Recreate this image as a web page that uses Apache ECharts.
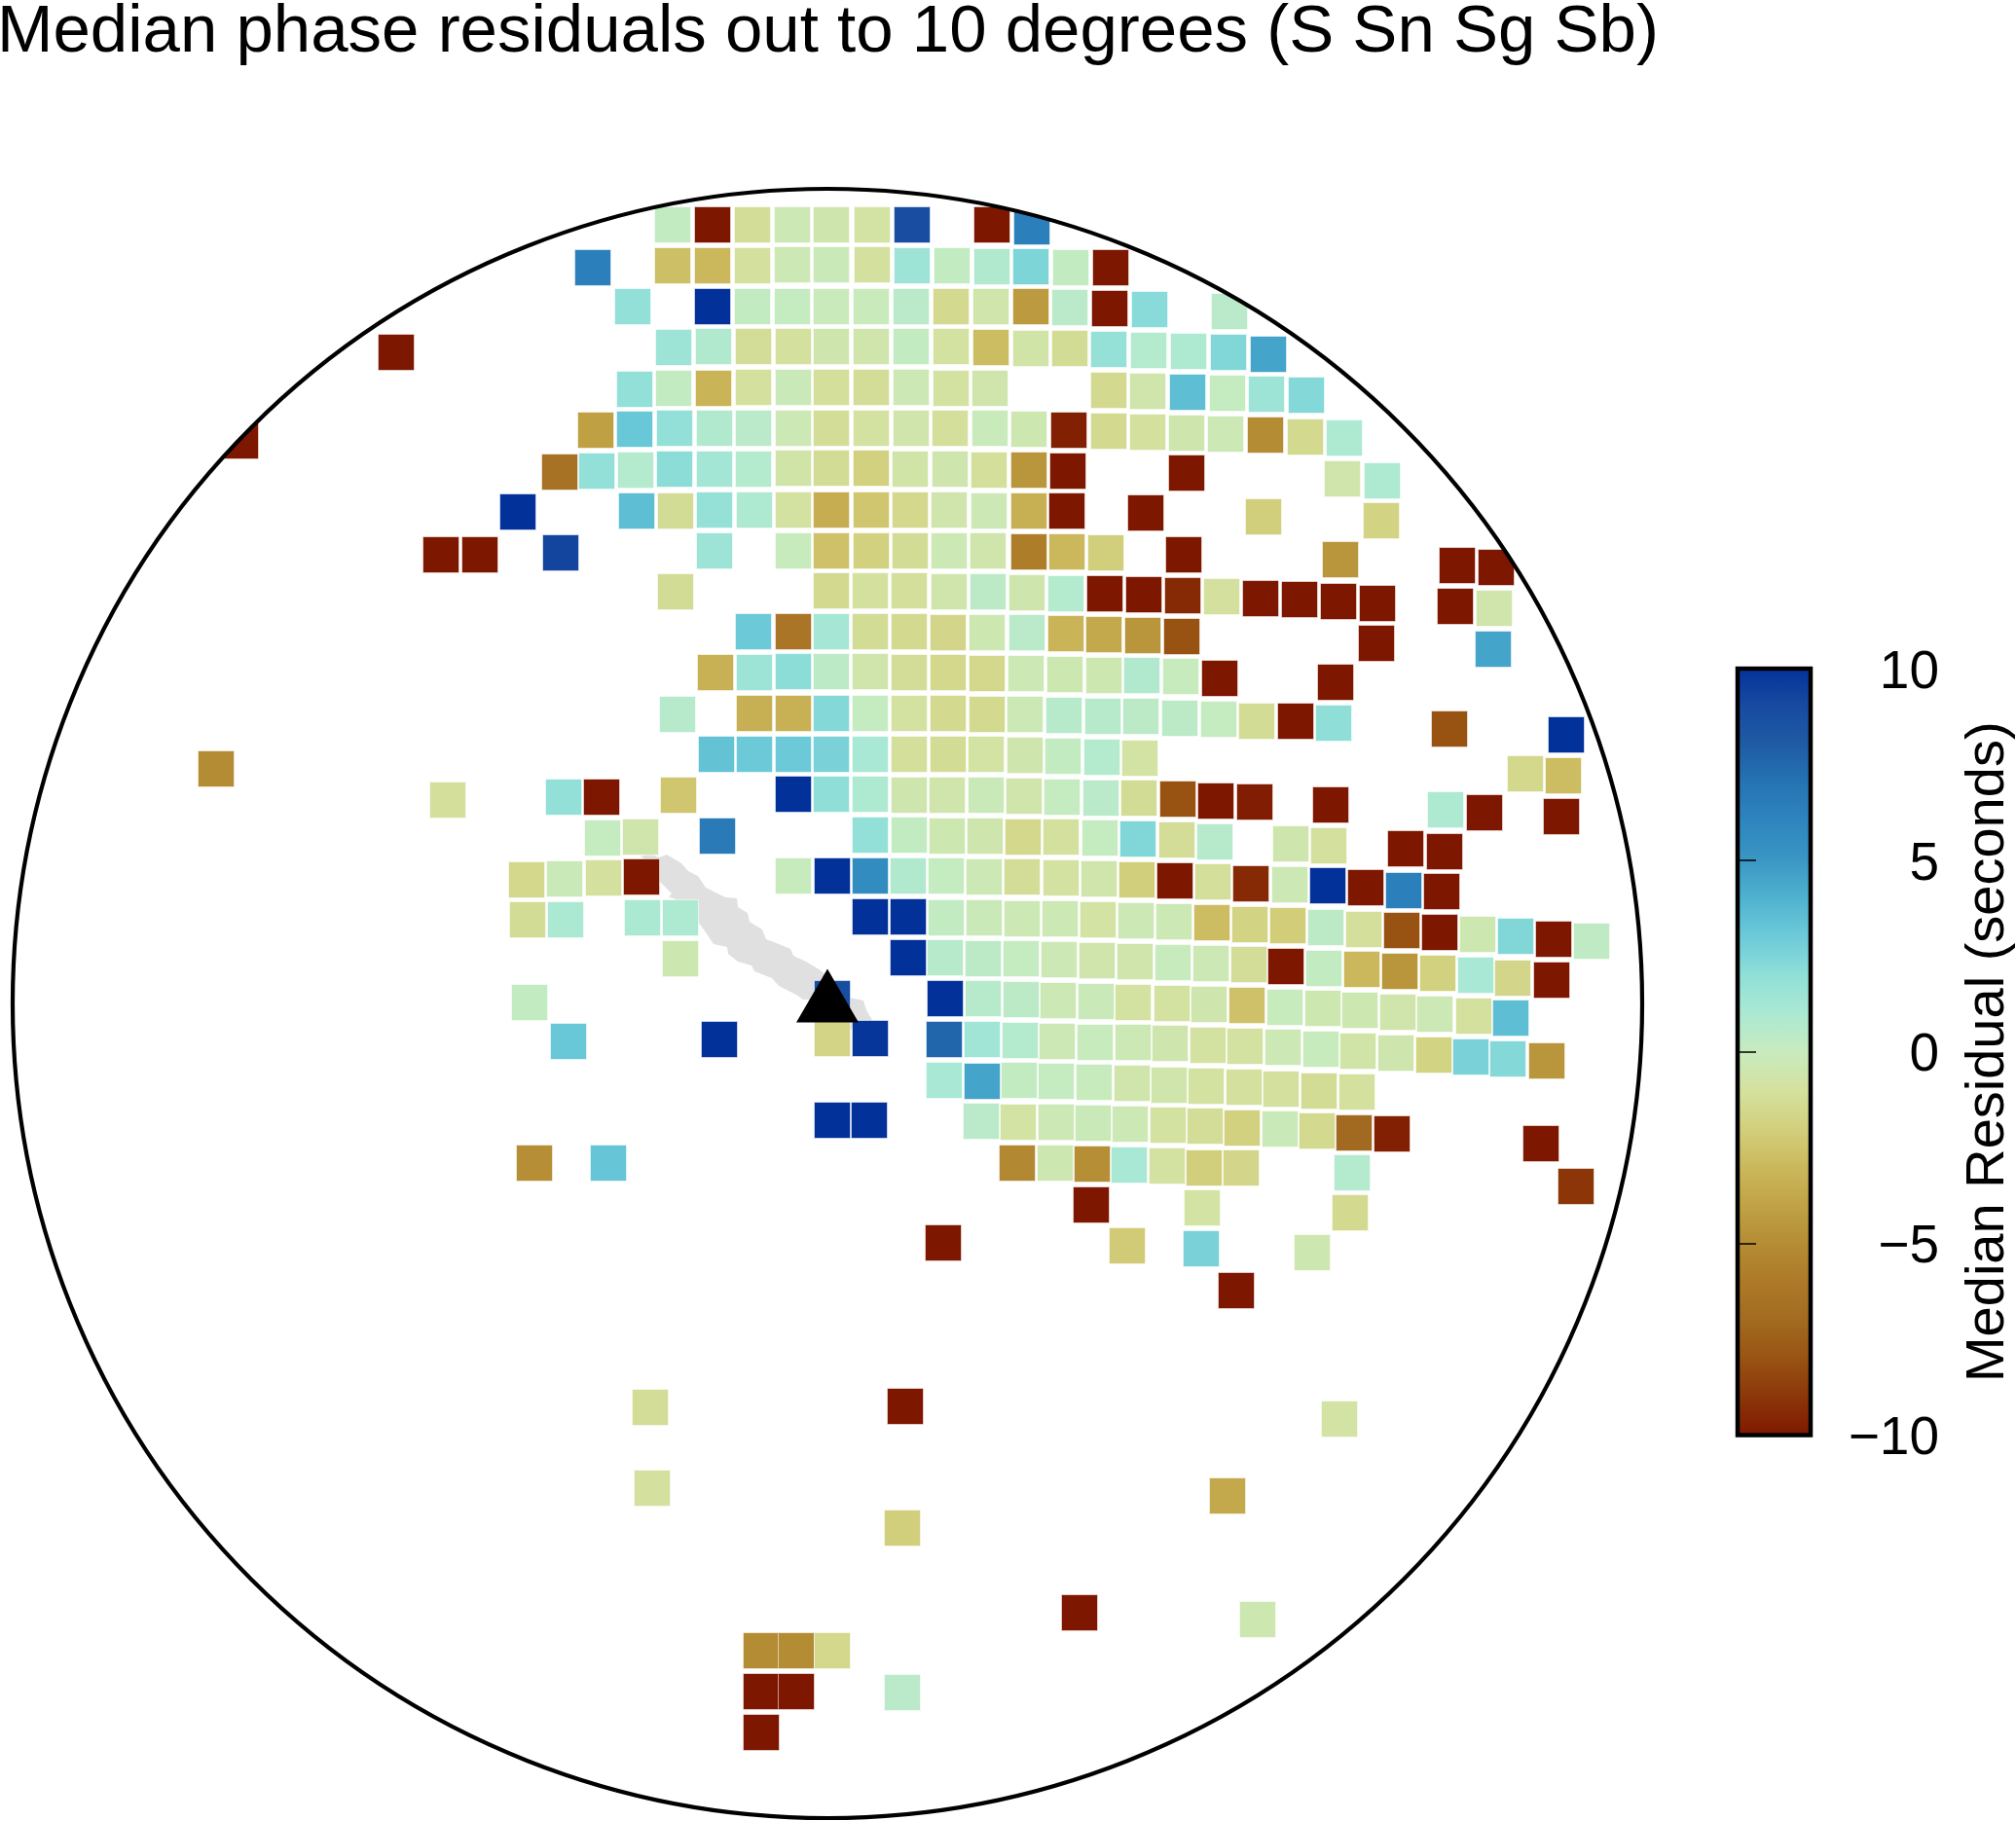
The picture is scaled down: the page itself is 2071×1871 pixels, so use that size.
<!DOCTYPE html>
<html><head><meta charset="utf-8">
<style>html,body{margin:0;padding:0;background:#fff}#c{width:2071px;height:1871px}</style>
<script src="https://cdn.jsdelivr.net/npm/echarts@6/dist/echarts.min.js"></script>
</head><body><div id="c"></div>
<script>
// Colour scale: one colour per second from -10 to +10
const colorScale = ['#7E1700','#8B3509','#985212','#A26A20','#AD7928','#B48C34','#C0A245','#CBB85C','#D2CF7C','#D4E19E','#C8EBBE','#ABE9D3','#8FDFD8','#6CCAD8','#4FB2CF','#3A96C4','#2E85BE','#2573B3','#1F5BA5','#174AA0','#03319A'];
const colorbarTicks = [-10,-5,0,5,10];
const colorbarRange = [[0,-10,1,10]];
const outerCircle = [[0,0,837]];
const station = [[0,8]];
// Cells: [east, north, median residual in seconds], grouped by row, north up
const rowA=[[-159,800,.2],[-118,800,-10],[-77,800,-1.2],[-36,800,-.3],[4,800,-.5],[46,800,-.8],[87,800,8.8],[169,800,-10],[210,798,6.3]];
const rowB=[[-241,756,6.3],[-159,758,-2.7],[-118,758,-3],[-77,758,-1],[-36,759,-.3],[4,759,-.2],[46,759,-1],[87,758,1.5],[128,758,.2],[169,757,.8],[209,757,2.5],[250,756,.2],[291,756,-10]];
const rowC=[[-200,716,1.9],[-118,716,10],[-77,716,.2],[-36,716,.1],[4,716,-.1],[45,716,-.1],[86,716,.5],[127,716,-1.4],[168,716,-.6],[209,716,-4.3],[249,715,.5],[290,714,-10],[331,713,2.2],[413,711,.5]];
const rowD=[[-158,674,1.5],[-117,675,.8],[-76,675,-1.2],[-35,675,-1],[4,675,-.5],[45,675,-.6],[86,675,.2],[127,675,-.9],[168,674,-2.8],[209,673,-.7],[249,673,-1.3],[289,672,1.8],[330,671,.7],[371,670,.9],[412,669,2.4],[453,667,4.5]];
const rowE=[[-198,631,1.9],[-158,632,.2],[-117,632,-3.2],[-76,633,-1],[-35,633,-.2],[4,633,-1.1],[45,633,-1.2],[86,633,-.3],[127,632,-.9],[167,632,-.6],[289,630,-1.4],[329,629,-.6],[370,628,3.5],[411,627,.1],[451,626,1.5],[492,625,2.3]];
const rowF=[[-238,589,-4.1],[-198,590,3.1],[-157,591,1.9],[-116,591,.8],[-76,591,.5],[-35,591,-.3],[4,591,-1.2],[45,591,-.9],[86,591,-.6],[126,591,-1.1],[167,591,-.1],[207,590,-.4],[248,589,-9.7],[289,588,-1.4],[329,587,-1],[369,586,-.5],[409,585,-.3],[450,584,-5],[491,582,-1.4],[531,581,.9]];
const rowG=[[-275,546,-6.5],[-237,547,1.9],[-197,548,.7],[-157,549,2.1],[-116,549,1.3],[-76,549,.7],[-35,550,-.7],[4,550,-1.3],[45,550,-1.9],[85,549,-.7],[126,549,-.5],[166,548,-1.1],[207,548,-4.6],[247,547,-10],[369,545,-10],[529,539,-.6],[570,537,.9]];
const rowH=[[-318,505,10],[-196,506,3.5],[-156,506,-1.3],[-116,507,1.8],[-75,507,.9],[-35,507,-.9],[4,507,-3.5],[45,507,-2.4],[85,507,-1.5],[125,507,-.6],[166,506,-.3],[207,506,-3.4],[246,506,-10],[327,504,-10],[448,500,-2],[569,496,-1.8]];
const rowI=[[-397,461,-10],[-357,461,-10],[-274,463,9.2],[-116,465,1.5],[-35,465,0],[4,465,-2.6],[45,465,-1.9],[85,465,-1.3],[125,465,-.3],[165,465,-.6],[207,464,-5.8],[246,464,-3],[286,463,-2],[366,461,-10],[527,456,-4.6],[647,450,-10],[687,448,-10]];
const rowJ=[[-156,423,-1.3],[4,424,-1.4],[44,424,-1],[84,424,-1.1],[125,423,-.6],[165,423,.4],[205,422,-.5],[245,421,.7],[285,421,-10],[325,420,-10],[365,419,-9.4],[405,418,-1],[445,416,-10],[485,415,-10],[525,413,-10],[565,411,-10],[645,408,-10],[685,406,-.6]];
const rowK=[[-76,382,3],[-35,382,-6.3],[4,382,1.2],[44,382,-1.3],[84,382,-1.4],[124,381,-1.6],[164,381,-.4],[205,381,.5],[245,380,-3.2],[284,379,-3.7],[324,378,-4.6],[364,377,-8],[564,370,-10],[684,364,4.5]];
const rowL=[[-115,340,-3.3],[-75,340,1.5],[-35,341,2.1],[4,341,.4],[44,341,-.6],[84,340,-1.2],[124,340,-1.5],[164,339,-1.5],[204,339,-.3],[244,338,-.4],[284,337,-.4],[323,337,.8],[363,336,0],[403,334,-10],[522,330,-10]];
const rowM=[[-154,297,.6],[-75,298,-3.4],[-35,298,-3.3],[4,298,2.3],[44,298,.1],[84,298,-.9],[124,298,-1.4],[164,297,-1.4],[203,297,-.3],[243,296,.6],[283,295,.6],[322,295,.4],[362,293,.4],[402,292,.1],[441,290,-1.3],[481,290,-10],[520,288,2],[639,282,-8],[759,276,10]];
const rowN=[[-628,241,-5],[-114,256,3.3],[-75,256,3],[-35,256,3],[4,256,2.6],[44,256,1.1],[84,256,-1.1],[124,256,-1.3],[163,256,-.8],[203,255,-.5],[242,254,.2],[282,253,.7],[321,252,-.8],[717,236,-1.5],[756,234,-2.8]];
const rowO=[[-390,209,-1.1],[-271,212,1.9],[-232,212,-10],[-153,214,-2.4],[-35,215,10],[4,215,2],[44,215,.9],[84,214,-.5],[123,214,-.6],[163,214,-.2],[202,213,-.6],[241,212,.1],[281,211,.5],[320,211,-1.3],[360,210,-8],[399,208,-10],[439,207,-9.8],[517,204,-10],[635,199,.9],[675,196,-10],[754,192,-10]];
const rowP=[[-231,170,.1],[-192,171,-.6],[-113,172,6.6],[44,173,1.9],[84,173,.2],[123,172,-.4],[162,172,-.5],[201,171,-1.5],[240,171,-1],[280,170,.1],[319,169,2.4],[359,168,-1.2],[398,166,.6],[476,164,-.5],[515,162,-1],[594,159,-10],[634,156,-10]];
const rowQ=[[-309,127,-1.5],[-270,128,-.2],[-230,129,-1],[-191,130,-10],[-35,131,0],[5,131,10],[44,131,5.6],[83,131,.8],[122,131,.1],[161,130,-.3],[200,130,-1.2],[240,129,-.9],[279,128,-.6],[318,127,-2],[357,126,-10],[396,125,-1.1],[435,123,-9.4],[475,122,-.3],[514,121,10],[553,119,-10],[592,116,6.3],[631,115,-10]];
const rowR=[[-308,86,-1.3],[-269,86,1],[-190,88,1],[-151,88,.9],[44,89,10],[83,89,10],[122,88,.2],[161,88,-.2],[200,87,-.3],[239,87,-.3],[278,86,-.8],[317,85,-.3],[356,84,-.3],[395,83,-2.8],[434,81,-1.8],[473,80,-2.1],[512,78,.4],[551,76,-1.1],[590,75,-8],[629,73,-10],[668,71,-.4],[707,69,2.4],[746,66,-10],[785,64,.3]];
const rowS=[[-151,46,-.4],[83,47,10],[121,47,.6],[160,46,.4],[199,46,.1],[238,45,-.3],[277,44,-.6],[316,43,-.6],[355,42,0],[394,41,-.3],[433,40,-1.2],[471,38,-10],[510,36,.2],[549,35,-3],[588,33,-4.6],[627,31,-1.9],[666,29,1.1],[704,26,-1.6],[744,24,-10]];
const rowT=[[-306,1,.2],[5,5,8.8],[121,5,10],[160,5,.6],[199,4,.4],[237,3,-.3],[276,2,-.2],[314,1,-.9],[354,0,-.9],[392,-1,-.5],[431,-2,-2.6],[470,-4,0],[509,-5,-.4],[547,-7,-.4],[586,-9,-.6],[624,-11,-.3],[664,-13,-1],[702,-15,3.5]];
const rowU=[[-266,-39,3.1],[-111,-37,10],[5,-36,-1.7],[44,-36,9.8],[120,-37,7.6],[159,-37,1.4],[198,-38,.7],[236,-39,-.3],[275,-40,0],[314,-40,-.3],[352,-41,-.5],[391,-43,-.9],[429,-44,-.9],[468,-45,-.3],[507,-47,0],[545,-49,-.7],[584,-51,-.5],[623,-53,-1.8],[661,-55,2.6],[699,-57,2.3],[739,-59,-4.6]];
const rowV=[[120,-79,1.1],[159,-80,4.5],[197,-79,.2],[235,-80,.1],[274,-81,0],[313,-82,-.6],[351,-84,-.6],[389,-85,-.9],[428,-86,-1],[466,-88,-1],[505,-90,-1.3],[544,-91,-1]];
const rowW=[[5,-120,10],[43,-120,10],[158,-121,.5],[196,-122,-.8],[235,-122,-.3],[273,-123,-.2],[311,-124,-.3],[350,-125,-.9],[388,-126,-1.2],[426,-128,-1.9],[465,-129,-.2],[503,-131,-1.4],[541,-133,-7],[580,-134,-9.7],[733,-144,-10]];
const rowX=[[-301,-164,-4.9],[-225,-164,3.2],[195,-164,-5.2],[234,-164,-.4],[272,-165,-4.9],[310,-166,1.1],[349,-167,-.9],[387,-169,-2],[425,-169,-1.6],[539,-174,.7],[769,-188,-9]];
const rowY=[[271,-207,-10],[385,-210,-.8],[537,-215,-1.4],[119,-246,-10],[308,-249,-2.2],[384,-252,2.6],[498,-256,-.4],[420,-295,-10]];
const outlyingNorth=[[-603,578,-10],[-443,669,-10]];
const outlyingSouth=[[-182,-415,-1.2],[80,-414,-10],[526,-427,-.8],[-180,-498,-1],[77,-539,-2],[411,-506,-3.7],[259,-626,-10],[442,-633,-.4],[-68,-665,-5],[-32,-665,-5],[5,-665,-1.5],[-68,-707,-10],[-32,-707,-10],[77,-708,.5],[-68,-749,-10]];
// Grey land outline
const landOutline=[[-192,151],[-183,154],[-173,150],[-165,153],[-150,144],[-143,136],[-133,131],[-125,119],[-117,115],[-105,109],[-93,108],[-92,99],[-82,93],[-80,84],[-67,76],[-63,66],[-50,61],[-38,56],[-35,49],[-22,43],[-7,34],[23,6],[37,3],[40,-7],[46,-17],[30,-26],[23,-27],[-17,4],[-25,4],[-32,9],[-50,18],[-57,26],[-75,33],[-78,39],[-92,43],[-102,51],[-103,58],[-117,61],[-125,73],[-133,84],[-137,94],[-158,108],[-163,109],[-160,113],[-173,126],[-175,141],[-183,146]];

const cells=[].concat(outlyingNorth,rowA,rowB,rowC,rowD,rowE,rowF,rowG,rowH,rowI,rowJ,rowK,rowL,rowM,rowN,rowO,rowP,rowQ,rowR,rowS,rowT,rowU,rowV,rowW,rowX,rowY,outlyingSouth);
const FONT='"Liberation Sans"';
const chart=echarts.init(document.getElementById('c'),null,{renderer:'canvas'});
chart.setOption({
  animation:false,
  backgroundColor:'#fff',
  title:{text:'Median phase residuals out to 10 degrees (S Sn Sg Sb)',left:-8,top:-6,textStyle:{fontFamily:FONT,fontSize:69,fontWeight:'normal',color:'#000'}},
  grid:[{left:0,top:0,width:2071,height:1871,outerBoundsMode:'none'},{left:1785,top:687,width:75,height:787.5,outerBoundsMode:'none'}],
  xAxis:[{type:'value',gridIndex:0,min:-850,max:1221,show:false},{type:'value',gridIndex:1,min:0,max:1,show:false}],
  yAxis:[{type:'value',gridIndex:0,min:-840,max:1031,show:false},
    {type:'value',gridIndex:1,min:colorbarTicks[0],max:colorbarTicks[4],interval:5,position:'right',z:5,
     splitLine:{show:false},axisLine:{show:true,lineStyle:{color:'#000',width:1}},
     axisTick:{show:true,length:19,lineStyle:{color:'#000',width:1.5}},
     axisLabel:{fontFamily:FONT,fontSize:55,color:'#000',align:'right',margin:132,verticalAlign:'top',lineHeight:9,formatter:v=>String(v).replace('-','\u2212')},
     name:'Median Residual (seconds)',nameLocation:'middle',nameRotate:90,nameGap:155,
     nameTextStyle:{fontFamily:FONT,fontSize:56,color:'#000'}}],
  visualMap:[{type:'continuous',show:false,seriesIndex:1,dimension:2,min:-10,max:10,inRange:{color:colorScale}}],
  series:[
    {type:'custom',xAxisIndex:0,yAxisIndex:0,silent:true,z:1,clip:false,data:[landOutline],
     renderItem:(p,api)=>({type:'polygon',shape:{points:landOutline.map(d=>api.coord(d))},style:{fill:'#E0E0E0'}})},
    {type:'scatter',xAxisIndex:0,yAxisIndex:0,z:2,clip:false,symbol:'rect',symbolSize:37,data:cells,
     itemStyle:{opacity:1,borderColor:'rgba(255,255,255,0.55)',borderWidth:1}},
    {type:'custom',xAxisIndex:0,yAxisIndex:0,silent:true,z:3,clip:false,data:outerCircle,
     renderItem:(p,api)=>{const c=api.coord([api.value(0),api.value(1)]);const r=api.size([api.value(2),0])[0];
       return {type:'group',children:[
        {type:'circle',shape:{cx:c[0],cy:c[1],r:r+31},style:{fill:'none',stroke:'#fff',lineWidth:60}},
        {type:'circle',shape:{cx:c[0],cy:c[1],r:r},style:{fill:'none',stroke:'#000',lineWidth:4.2}}]};}},
    {type:'scatter',xAxisIndex:0,yAxisIndex:0,z:4,clip:false,symbol:'triangle',symbolSize:[64,55],data:station,itemStyle:{color:'#000',opacity:1}},
    {type:'custom',xAxisIndex:1,yAxisIndex:1,silent:true,z:2,clip:false,data:colorbarRange,
     renderItem:(p,api)=>{const a=api.coord([api.value(0),api.value(1)]);const b=api.coord([api.value(2),api.value(3)]);
       return {type:'rect',shape:{x:a[0],y:b[1],width:b[0]-a[0],height:a[1]-b[1]},
        style:{stroke:'#000',lineWidth:4.5,fill:{type:'linear',x:0,y:1,x2:0,y2:0,colorStops:colorScale.map((c,i)=>({offset:i/(colorScale.length-1),color:c}))}}};}}
  ]
});
</script></body></html>
